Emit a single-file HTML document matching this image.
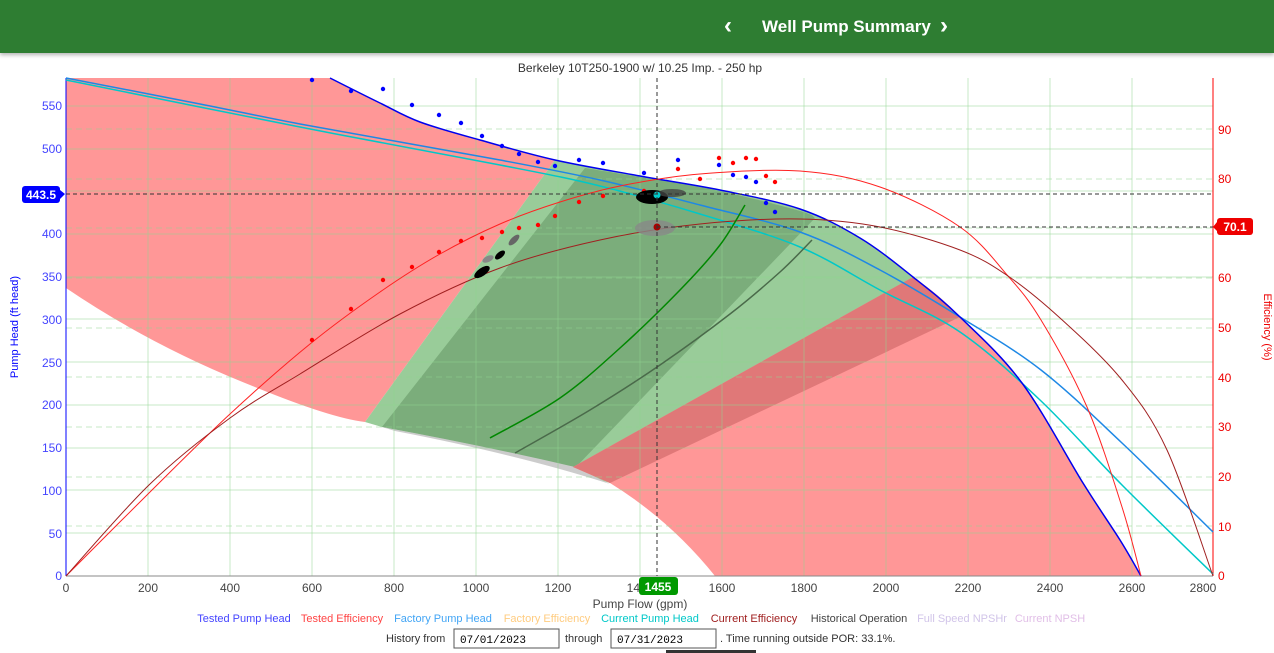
<!DOCTYPE html>
<html><head><meta charset="utf-8"><style>
body{margin:0;width:1274px;height:653px;overflow:hidden;background:#fff;font-family:"Liberation Sans",sans-serif;}
.hdr{position:absolute;left:0;top:0;width:1274px;height:53px;background:#2e7d32;box-shadow:0 2px 4px rgba(0,0,0,.3);color:#fff;}
.hdr .t{position:absolute;left:762px;top:17px;font-size:17px;font-weight:bold;}
.hdr .a{position:absolute;top:12px;font-size:24px;font-weight:bold;}
</style></head><body>
<div class="hdr"><span class="a" style="left:724px">&#8249;</span><span class="t">Well Pump Summary</span><span class="a" style="left:940px">&#8250;</span></div>
<svg width="1274" height="653" style="position:absolute;left:0;top:0" font-family="Liberation Sans, sans-serif">
<text x="640" y="72" font-size="12" fill="#333" text-anchor="middle">Berkeley 10T250-1900 w/ 10.25 Imp. - 250 hp</text>
<!-- pink left -->
<path class="sm" data-pre="M66,78 L330,78" data-pts="330,78 380,103 420,122 480,140 555,160" data-post="L365,422 Q330,418 250,385 Q150,345 66,288 Z" fill="#ff9797"/>
<!-- light green -->
<path class="sm" data-pre="M365,422 L555,160" data-pts="555,160 640,176 720,190 800,209 860,238 913,277 960,317" data-post="L610,483 Q500,450 382,427 Z" fill="#99cc99"/>
<!-- dark green -->
<path class="sm" data-pre="M382,427 L585,168" data-pts="585,168 640,177 720,191 800,211 815,218" data-post="L575,468 Q480,445 382,427 Z" fill="#7bad7b"/>
<!-- gray band -->
<path d="M382,427 Q480,445 575,467 L610,484 Q520,455 395,431 Z" fill="#cccccc"/>
<!-- red right -->
<path class="sm" data-pre="M573,467 L913,277" data-pts="913,277 960,317 1022,383 1083,483 1120,540 1141,576" data-post="L715,576 Q670,520 610,483 Z" fill="#ff9797"/>
<path d="M573,467 L913,277 Q940,295 960,317 L610,483 Z" fill="#e07878"/>
<!-- grid -->
<g stroke="#8fd68f" stroke-opacity="0.5" stroke-width="1">
<line x1="148" y1="78" x2="148" y2="576"/><line x1="230" y1="78" x2="230" y2="576"/><line x1="312" y1="78" x2="312" y2="576"/><line x1="394" y1="78" x2="394" y2="576"/><line x1="476" y1="78" x2="476" y2="576"/><line x1="558" y1="78" x2="558" y2="576"/><line x1="640" y1="78" x2="640" y2="576"/><line x1="722" y1="78" x2="722" y2="576"/><line x1="804" y1="78" x2="804" y2="576"/><line x1="886" y1="78" x2="886" y2="576"/><line x1="968" y1="78" x2="968" y2="576"/><line x1="1050" y1="78" x2="1050" y2="576"/><line x1="1132" y1="78" x2="1132" y2="576"/>
<line x1="66" y1="533" x2="1213" y2="533"/><line x1="66" y1="490" x2="1213" y2="490"/><line x1="66" y1="448" x2="1213" y2="448"/><line x1="66" y1="405" x2="1213" y2="405"/><line x1="66" y1="362" x2="1213" y2="362"/><line x1="66" y1="319" x2="1213" y2="319"/><line x1="66" y1="277" x2="1213" y2="277"/><line x1="66" y1="234" x2="1213" y2="234"/><line x1="66" y1="191" x2="1213" y2="191"/><line x1="66" y1="149" x2="1213" y2="149"/><line x1="66" y1="106" x2="1213" y2="106"/>
</g>
<g stroke="#8fd68f" stroke-opacity="0.5" stroke-dasharray="6,4">
<line x1="66" y1="526" x2="1213" y2="526"/><line x1="66" y1="477" x2="1213" y2="477"/><line x1="66" y1="427" x2="1213" y2="427"/><line x1="66" y1="377" x2="1213" y2="377"/><line x1="66" y1="328" x2="1213" y2="328"/><line x1="66" y1="278" x2="1213" y2="278"/><line x1="66" y1="228" x2="1213" y2="228"/><line x1="66" y1="179" x2="1213" y2="179"/><line x1="66" y1="129" x2="1213" y2="129"/>
</g>
<!-- axes -->
<line x1="66" y1="78" x2="66" y2="576" stroke="#00f"/>
<line x1="1213" y1="78" x2="1213" y2="576" stroke="#f00"/>
<line x1="66" y1="576" x2="1213" y2="576" stroke="#888"/>
<g font-size="12" fill="#4444ff" text-anchor="end">
<text x="62" y="580">0</text><text x="62" y="538">50</text><text x="62" y="495">100</text><text x="62" y="452">150</text><text x="62" y="409">200</text><text x="62" y="367">250</text><text x="62" y="324">300</text><text x="62" y="281">350</text><text x="62" y="238">400</text><text x="62" y="153">500</text><text x="62" y="110">550</text>
</g>
<g font-size="12" fill="#e00">
<text x="1218" y="580">0</text><text x="1218" y="531">10</text><text x="1218" y="481">20</text><text x="1218" y="431">30</text><text x="1218" y="382">40</text><text x="1218" y="332">50</text><text x="1218" y="282">60</text><text x="1218" y="233">70</text><text x="1218" y="183">80</text><text x="1218" y="134">90</text>
</g>
<g font-size="12" fill="#444" text-anchor="middle">
<text x="66" y="592">0</text><text x="148" y="592">200</text><text x="230" y="592">400</text><text x="312" y="592">600</text><text x="394" y="592">800</text><text x="476" y="592">1000</text><text x="558" y="592">1200</text><text x="640" y="592">1400</text><text x="722" y="592">1600</text><text x="804" y="592">1800</text><text x="886" y="592">2000</text><text x="968" y="592">2200</text><text x="1050" y="592">2400</text><text x="1132" y="592">2600</text><text x="1203" y="592">2800</text>
<text x="640" y="608">Pump Flow (gpm)</text>
</g>
<text transform="translate(18,327) rotate(-90)" font-size="11" fill="#00f" text-anchor="middle">Pump Head (ft head)</text>
<text transform="translate(1264,327) rotate(90)" font-size="11" fill="#e00" text-anchor="middle">Efficiency (%)</text>
<!-- curves -->
<path class="sm" data-pts="66,78 200,104 300,124 400,142 500,160 600,180 700,205 800,232 880,270 960,317 1041,370 1122,443 1213,532" fill="none" stroke="#1e88e5" stroke-width="1.5"/>
<path class="sm" data-pts="66,80 300,127 500,165 600,186 700,214 800,247 880,290 960,332 1040,400 1122,485 1213,574" fill="none" stroke="#00c8c8" stroke-width="1.5"/>
<path class="sm" data-pts="330,78 380,103 420,122 480,140 555,160 640,176 720,190 800,209 860,238 913,277 960,317 1022,383 1083,483 1120,540 1141,576" fill="none" stroke="#0000ee" stroke-width="1.5"/>
<path class="sm" data-pts="66,576 150,492 230,414 310,344 380,292 440,254 500,224 560,202 620,186 700,174 800,171 880,187 960,227 1008,276 1041,320 1087,407 1122,507 1141,576" fill="none" stroke="#f22" stroke-width="1"/>
<path class="sm" data-pts="66,576 150,484 230,418 300,374 400,314 500,268 600,240 700,224 800,219 880,227 960,250 1008,276 1060,318 1122,380 1167,450 1213,576" fill="none" stroke="#a02020" stroke-width="1"/>
<path class="sm" data-pts="490,438 560,398 620,348 680,290 720,245 745,205" fill="none" stroke="#080" stroke-width="1.5"/>
<path class="sm" data-pts="515,453 590,410 660,365 730,314 780,272 812,240" fill="none" stroke="#4a6a4a" stroke-width="1.5"/>
<!-- dots -->
<g fill="#00f">
<circle cx="312" cy="80" r="2.2"/><circle cx="351" cy="91" r="2.2"/><circle cx="383" cy="89" r="2.2"/><circle cx="412" cy="105" r="2.2"/><circle cx="439" cy="115" r="2.2"/><circle cx="461" cy="123" r="2.2"/><circle cx="482" cy="136" r="2.2"/><circle cx="502" cy="146" r="2.2"/><circle cx="519" cy="154" r="2.2"/><circle cx="538" cy="162" r="2.2"/><circle cx="555" cy="166" r="2.2"/><circle cx="579" cy="160" r="2.2"/><circle cx="603" cy="163" r="2.2"/><circle cx="644" cy="173" r="2.2"/><circle cx="678" cy="160" r="2.2"/><circle cx="719" cy="165" r="2.2"/><circle cx="733" cy="175" r="2.2"/><circle cx="746" cy="177" r="2.2"/><circle cx="756" cy="182" r="2.2"/><circle cx="766" cy="203" r="2.2"/><circle cx="775" cy="212" r="2.2"/>
</g>
<g fill="#f00">
<circle cx="312" cy="340" r="2.2"/><circle cx="351" cy="309" r="2.2"/><circle cx="383" cy="280" r="2.2"/><circle cx="412" cy="267" r="2.2"/><circle cx="439" cy="252" r="2.2"/><circle cx="461" cy="241" r="2.2"/><circle cx="482" cy="238" r="2.2"/><circle cx="502" cy="232" r="2.2"/><circle cx="519" cy="228" r="2.2"/><circle cx="538" cy="225" r="2.2"/><circle cx="555" cy="216" r="2.2"/><circle cx="579" cy="202" r="2.2"/><circle cx="603" cy="196" r="2.2"/><circle cx="644" cy="191" r="2.2"/><circle cx="678" cy="169" r="2.2"/><circle cx="700" cy="179" r="2.2"/><circle cx="719" cy="158" r="2.2"/><circle cx="733" cy="163" r="2.2"/><circle cx="746" cy="158" r="2.2"/><circle cx="756" cy="159" r="2.2"/><circle cx="766" cy="176" r="2.2"/><circle cx="775" cy="182" r="2.2"/>
</g>
<!-- historical clusters -->
<ellipse cx="655" cy="228" rx="20" ry="8" fill="#888" opacity="0.8"/>
<ellipse cx="652" cy="197" rx="16" ry="7" fill="#000"/>
<ellipse cx="672" cy="193" rx="14" ry="4" fill="#444" opacity="0.8"/>
<ellipse cx="482" cy="272" rx="9" ry="4" fill="#000" transform="rotate(-35 482 272)"/>
<ellipse cx="500" cy="255" rx="6" ry="3" fill="#000" transform="rotate(-40 500 255)"/>
<ellipse cx="514" cy="240" rx="7" ry="3" fill="#666" transform="rotate(-45 514 240)"/>
<ellipse cx="488" cy="259" rx="6" ry="3" fill="#888" transform="rotate(-25 488 259)"/>
<circle cx="657" cy="227" r="3.5" fill="#a00"/>
<circle cx="657" cy="195" r="3.5" fill="#0cc"/>
<!-- crosshairs -->
<g stroke="#333" stroke-dasharray="4,3" stroke-width="1">
<line x1="66" y1="194" x2="1213" y2="194"/><line x1="657" y1="78" x2="657" y2="576"/><line x1="657" y1="227" x2="1213" y2="227"/>
</g>
<rect x="22" y="186" width="38" height="17" rx="3" fill="#00f"/><path d="M60,190 L65,194 L60,199 Z" fill="#00f"/>
<text x="41" y="199" font-size="12" fill="#fff" text-anchor="middle" font-weight="bold">443.5</text>
<rect x="1217" y="218" width="36" height="17" rx="3" fill="#e00"/><path d="M1217,222 L1213,227 L1217,231 Z" fill="#e00"/>
<text x="1235" y="231" font-size="12" fill="#fff" text-anchor="middle" font-weight="bold">70.1</text>
<rect x="639" y="577" width="39" height="18" rx="3" fill="#090"/>
<text x="658" y="591" font-size="12" fill="#fff" text-anchor="middle" font-weight="bold">1455</text>
<!-- legend -->
<g font-size="11" text-anchor="middle">
<text x="244" y="622" fill="#4444ff">Tested Pump Head</text><text x="342" y="622" fill="#f44">Tested Efficiency</text><text x="443" y="622" fill="#42a5f5">Factory Pump Head</text><text x="547" y="622" fill="#ffcc80">Factory Efficiency</text><text x="650" y="622" fill="#00c8c8">Current Pump Head</text><text x="754" y="622" fill="#a02020">Current Efficiency</text><text x="859" y="622" fill="#444">Historical Operation</text><text x="962" y="622" fill="#d1c4e9">Full Speed NPSHr</text><text x="1050" y="622" fill="#e1bee7">Current NPSH</text>
</g>
<text x="386" y="642" font-size="11" fill="#333">History from</text>
<rect x="454" y="629" width="105" height="19" fill="#fff" stroke="#555"/>
<text x="460" y="643" font-size="11" fill="#000" font-family="Liberation Mono, monospace">07/01/2023</text>
<text x="565" y="642" font-size="11" fill="#333">through</text>
<rect x="611" y="629" width="105" height="19" fill="#fff" stroke="#555"/>
<text x="617" y="643" font-size="11" fill="#000" font-family="Liberation Mono, monospace">07/31/2023</text>
<text x="720" y="642" font-size="11" fill="#333">. Time running outside POR: 33.1%.</text>
<rect x="666" y="650" width="90" height="3" fill="#333"/>
</svg>
<script>
document.querySelectorAll('path.sm').forEach(function(el){
  var p=el.getAttribute('data-pts').trim().split(/\s+/).map(function(s){return s.split(',').map(Number);});
  var pre=el.getAttribute('data-pre'), post=el.getAttribute('data-post')||'';
  var d=pre?pre+' ':'M'+p[0][0]+','+p[0][1]+' ';
  for(var i=0;i<p.length-1;i++){
    var p0=p[i-1]||p[i],p1=p[i],p2=p[i+1],p3=p[i+2]||p2;
    var c1x=p1[0]+(p2[0]-p0[0])/6,c1y=p1[1]+(p2[1]-p0[1])/6;
    var c2x=p2[0]-(p3[0]-p1[0])/6,c2y=p2[1]-(p3[1]-p1[1])/6;
    d+='C'+c1x.toFixed(1)+','+c1y.toFixed(1)+' '+c2x.toFixed(1)+','+c2y.toFixed(1)+' '+p2[0]+','+p2[1]+' ';
  }
  el.setAttribute('d',d+post);
});
</script>
</body></html>
